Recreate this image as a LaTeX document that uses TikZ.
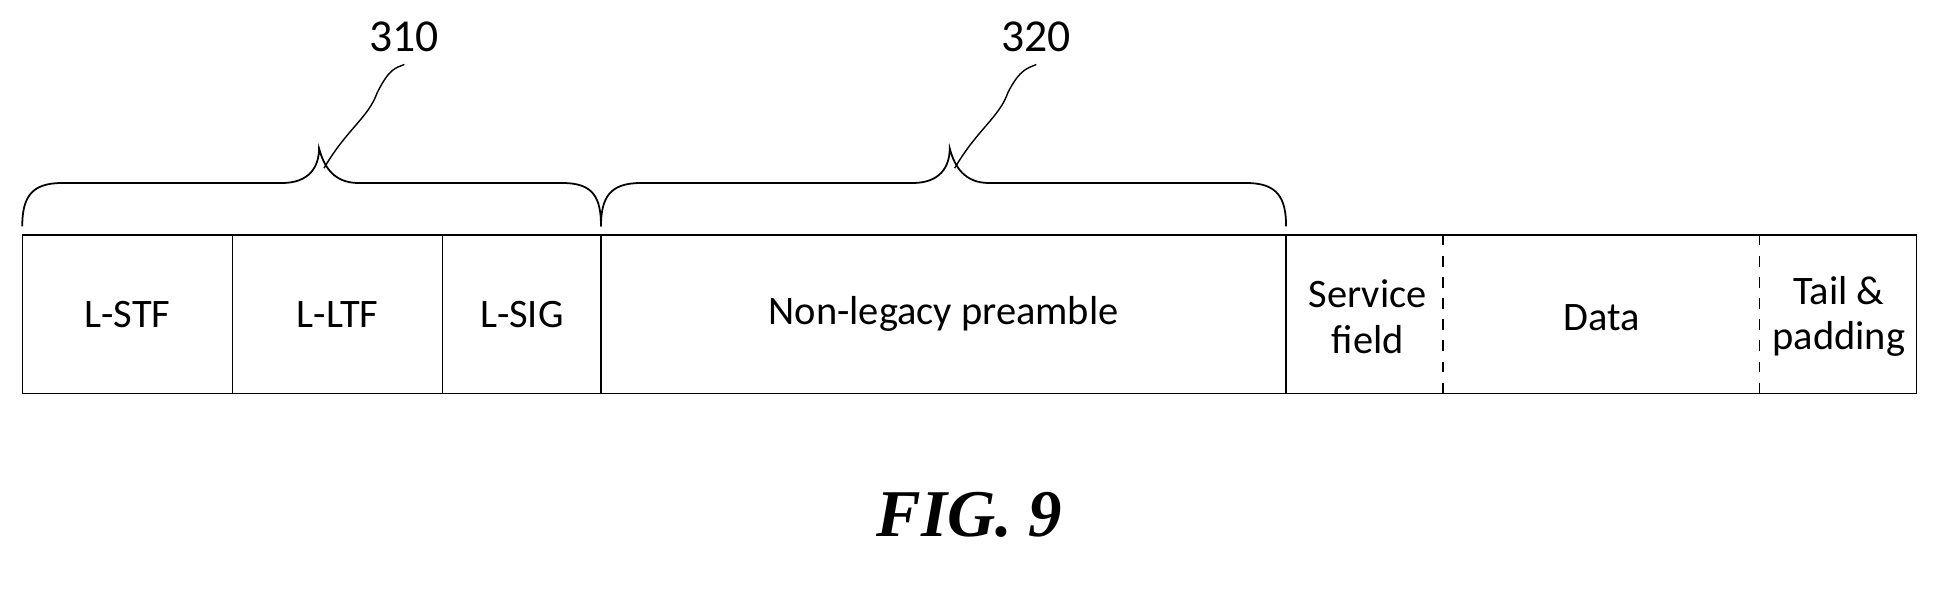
\documentclass[tikz,border=0pt]{standalone}
\usepackage{fontspec}
\setmainfont{Carlito}
\newfontfamily\figfont{Liberation Serif}
\usetikzlibrary{positioning}

\begin{document}
\begin{tikzpicture}[x=0.012366cm, y=-0.012366cm,
  field/.style={draw, minimum height=128*0.012366cm, inner sep=0pt, align=center, font=\fontsize{11.5}{13}\selectfont},
  brace/.style={draw, line width=0.5pt}]
  \useasboundingbox (0,0) rectangle (1568,480);
  % fields
  \node[field, minimum width=170*0.012366cm] (lstf) at (103,254) {\raisebox{-3pt}{L-STF}};
  \node[field, minimum width=170*0.012366cm] (lltf) at (273,254) {\raisebox{-3pt}{L-LTF}};
  \node[field, minimum width=128*0.012366cm] (lsig) at (422,254) {\raisebox{-3pt}{L-SIG}};
  \node[field, minimum width=554*0.012366cm] (nlp) at (763,254) {\raisebox{-3pt}{Non-legacy preamble}};
  \node[field, minimum width=510*0.012366cm] (rest) at (1295,254) {};
  \node[font=\fontsize{11.5}{13}\selectfont, align=center] (svc) at (1106,256) {Service\\field};
  \node[font=\fontsize{11.5}{13}\selectfont] (data) at (1295,257) {Data};
  \node[font=\fontsize{11.5}{13}\selectfont, align=center] (tail) at (1487,256) {Tail \&\\padding};
  \draw[dashed] (1167,190) -- (1167,318);
  \draw[dashed] (1423,190) -- (1423,318);
  % braces
  \draw[brace] (18,183) .. controls (18,160) and (25,148) .. (50,148) -- (228,148)
    .. controls (250,148) and (258,135) .. (258,120) coordinate (t1)
    .. controls (262,135) and (270,148) .. (290,148) -- (455,148)
    .. controls (480,148) and (486,160) .. (486,183);
  \draw[brace] (486,183) .. controls (486,160) and (493,148) .. (518,148) -- (738,148)
    .. controls (760,148) and (768,135) .. (768,120) coordinate (t2)
    .. controls (772,135) and (780,148) .. (800,148) -- (1008,148)
    .. controls (1033,148) and (1040,160) .. (1040,183);
  % labels
  \node[font=\fontsize{13}{15}\selectfont] (l310) at (327,30) {310};
  \node[font=\fontsize{13}{15}\selectfont] (l320) at (838,30) {320};
  \draw (262,136) .. controls (280,105) and (298,95) .. (305,75) .. controls (315,55) and (320,55) .. (l310.south);
  \draw (772,136) .. controls (790,105) and (808,95) .. (815,75) .. controls (825,55) and (832,55) .. (l320.south);
  \node[font=\figfont\bfseries\itshape\fontsize{19}{22}\selectfont] (fig) at (784,416) {FIG. 9};
\end{tikzpicture}
\end{document}
